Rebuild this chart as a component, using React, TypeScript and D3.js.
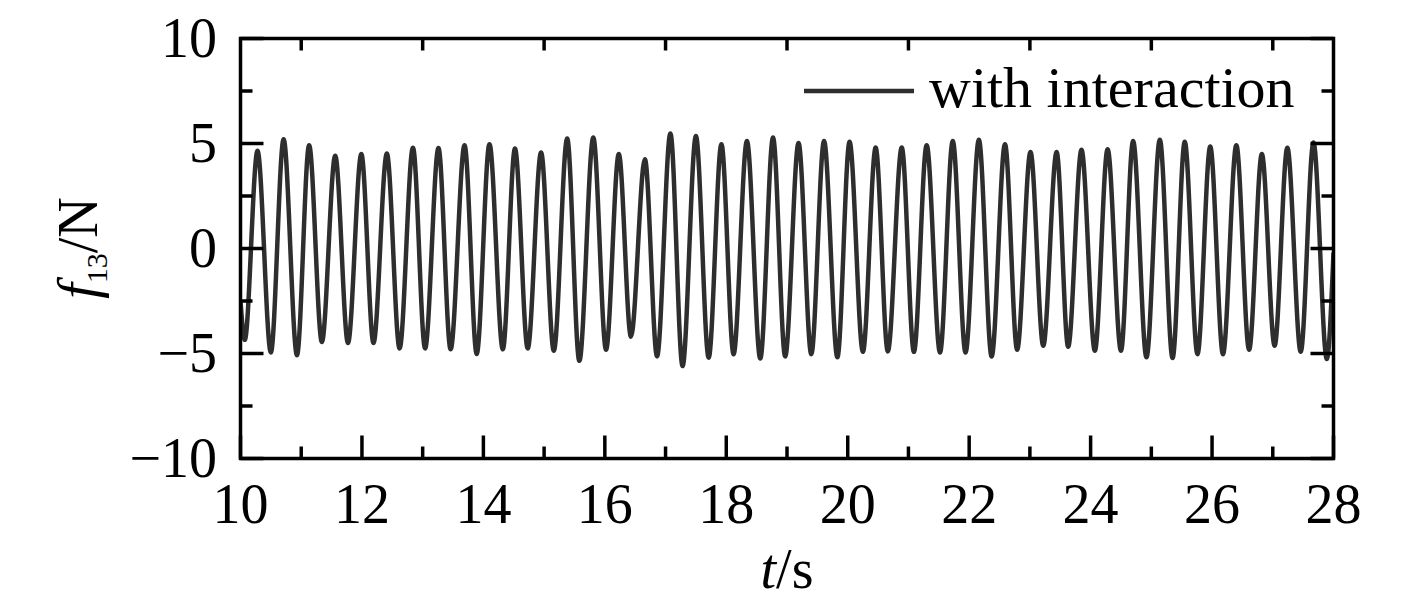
import { useMemo } from 'react';
import * as d3 from 'd3';

// extrema of f13 (time in s, force in N)
const peakTimes = [
  10.0, 10.07, 10.28, 10.5, 10.71, 10.93, 11.13, 11.34, 11.56, 11.77, 11.99, 12.19,
  12.41, 12.62, 12.84, 13.04, 13.26, 13.46, 13.69, 13.89, 14.1, 14.32, 14.52, 14.73,
  14.95, 15.16, 15.38, 15.58, 15.81, 16.02, 16.23, 16.43, 16.66, 16.86, 17.08, 17.28,
  17.5, 17.71, 17.92, 18.12, 18.34, 18.56, 18.77, 18.97, 19.19, 19.4, 19.61, 19.83,
  20.03, 20.25, 20.46, 20.66, 20.89, 21.09, 21.3, 21.52, 21.73, 21.94, 22.16, 22.37,
  22.59, 22.79, 23.01, 23.22, 23.44, 23.63, 23.85, 24.07, 24.28, 24.5, 24.7, 24.92,
  25.14, 25.35, 25.55, 25.76, 25.97, 26.18, 26.4, 26.61, 26.82, 27.03, 27.24, 27.46,
  27.67, 27.89, 28.0,
];
const peakForces = [
  -2.5, -4.35, 4.65, -4.95, 5.2, -5.08, 4.92, -4.45, 4.42, -4.5, 4.5, -4.5,
  4.52, -4.76, 4.8, -4.76, 4.78, -4.8, 4.92, -5.02, 4.97, -4.8, 4.76, -4.76,
  4.57, -4.87, 5.24, -5.35, 5.28, -4.82, 4.5, -4.2, 4.25, -5.14, 5.48, -5.6,
  5.36, -5.2, 4.97, -5.03, 5.12, -5.24, 5.28, -5.14, 5.02, -5.03, 5.12, -5.18,
  5.08, -4.92, 4.81, -4.9, 4.81, -4.92, 4.92, -4.95, 5.12, -4.95, 5.18, -5.14,
  4.97, -4.82, 4.6, -4.63, 4.6, -4.68, 4.7, -4.87, 4.73, -4.87, 5.12, -5.18,
  5.18, -5.22, 5.08, -5.03, 4.86, -5.03, 4.92, -4.82, 4.5, -4.63, 4.8, -4.92,
  5.05, -5.26, -0.2,
];

const xMajor = [10, 12, 14, 16, 18, 20, 22, 24, 26, 28];
const xMinor = [11, 13, 15, 17, 19, 21, 23, 25, 27];
const yMajor = [-10, -5, 0, 5, 10];
const yMinor = [-7.5, -2.5, 2.5, 7.5];
const yTickLabels = ['\u221210', '\u22125', '0', '5', '10'];
const seriesName = 'with interaction';

const FONT = "'Liberation Serif', 'Times New Roman', serif";

export default function App() {
  const width = 1417;
  const height = 601;
  const left = 240.5;
  const right = 1333.5;
  const top = 38.5;
  const bottom = 458.5;
  const major = 23;
  const minor = 12;

  const x = d3.scaleLinear().domain([10, 28]).range([left, right]);
  const y = d3.scaleLinear().domain([-10, 10]).range([bottom, top]);

  const path = useMemo(() => {
    const pts = peakTimes.map((t, i) => [t, peakForces[i]] as [number, number]);
    return d3.line<[number, number]>()
      .x((d) => x(d[0]))
      .y((d) => y(d[1]))
      .curve(d3.curveMonotoneX)(pts);
  }, []);

  const tick = { stroke: '#000', strokeWidth: 3.5 };

  return (
    <div style={{ position: 'fixed', left: 0, top: 0 }}>
      <svg width={width} height={height} style={{ display: 'block', background: '#fff' }}>
        <defs>
          <clipPath id="plot">
            <rect x={left} y={top} width={right - left} height={bottom - top} />
          </clipPath>
        </defs>

        <path d={path || ''} fill="none" stroke="#2e2e2e" strokeWidth={4.5} clipPath="url(#plot)" />

        {/* bottom ticks */}
        {xMajor.map((v) => (
          <line key={`bx${v}`} x1={x(v)} x2={x(v)} y1={bottom} y2={bottom - major} {...tick} />
        ))}
        {xMinor.map((v) => (
          <line key={`bm${v}`} x1={x(v)} x2={x(v)} y1={bottom} y2={bottom - minor} {...tick} />
        ))}
        {/* top ticks */}
        {xMinor.map((v) => (
          <line key={`tm${v}`} x1={x(v)} x2={x(v)} y1={top} y2={top + minor} {...tick} />
        ))}
        {/* left & right ticks */}
        {yMajor.map((v) => (
          <g key={`ly${v}`}>
            <line x1={left} x2={left + major} y1={y(v)} y2={y(v)} {...tick} />
            <line x1={right} x2={right - major} y1={y(v)} y2={y(v)} {...tick} />
          </g>
        ))}
        {yMinor.map((v) => (
          <g key={`lm${v}`}>
            <line x1={left} x2={left + minor} y1={y(v)} y2={y(v)} {...tick} />
            <line x1={right} x2={right - minor} y1={y(v)} y2={y(v)} {...tick} />
          </g>
        ))}

        <rect x={left} y={top} width={right - left} height={bottom - top} fill="none" stroke="#000" strokeWidth={3.5} />

        {/* tick labels */}
        <g fontFamily={FONT} fontSize={56} fill="#000">
          {xMajor.map((v) => (
            <text key={`xl${v}`} x={x(v)} y={523} textAnchor="middle">{v}</text>
          ))}
          {yMajor.map((v, i) => (
            <text key={`yl${v}`} x={217} y={y(v) + 18} textAnchor="end">{yTickLabels[i]}</text>
          ))}
        </g>

        {/* axis titles */}
        <text x={(left + right) / 2} y={588} textAnchor="middle" fontFamily={FONT} fontSize={56}>
          <tspan fontStyle="italic">t</tspan>/s
        </text>
        <text transform="translate(97,248) rotate(-90)" textAnchor="middle" fontFamily={FONT} fontSize={56}>
          <tspan fontStyle="italic">f</tspan>
          <tspan fontSize={30} dy={10}>13</tspan>
          <tspan dy={-10}>/N</tspan>
        </text>

        {/* legend */}
        <line x1={804} x2={914} y1={91} y2={91} stroke="#2e2e2e" strokeWidth={4.5} />
        <text x={929} y={107} fontFamily={FONT} fontSize={58}>{seriesName}</text>
      </svg>
    </div>
  );
}
